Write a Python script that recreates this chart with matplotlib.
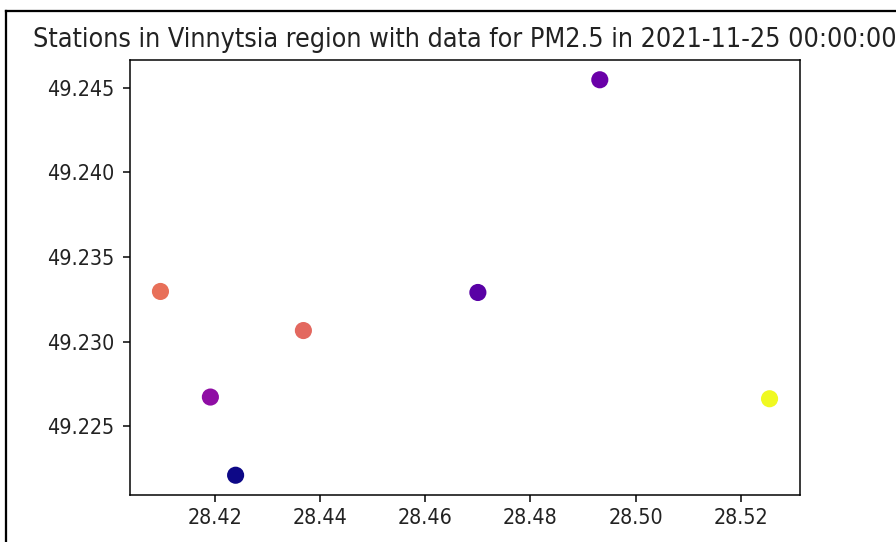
import matplotlib
matplotlib.use("Agg")
import matplotlib.pyplot as plt
from matplotlib.lines import Line2D
from matplotlib import font_manager

lons = [28.4096, 28.4191, 28.4239, 28.4368, 28.4700, 28.4932, 28.5255]
lats = [49.23296, 49.22672, 49.22210, 49.23065, 49.23290, 49.24547, 49.22662]
pm25 = [14.6, 9.5, 5.0, 14.15, 7.4, 8.0, 20.0]
title = "Stations in Vinnytsia region with data for PM2.5 in 2021-11-25 00:00:00"
xticks = [28.42, 28.44, 28.46, 28.48, 28.50, 28.52]
yticks = [49.225, 49.230, 49.235, 49.240, 49.245]
xlabels = ["28.42", "28.44", "28.46", "28.48", "28.50", "28.52"]
ylabels = ["49.225", "49.230", "49.235", "49.240", "49.245"]

cond = [f.name for f in font_manager.fontManager.ttflist if "Condensed" in f.fname and "DejaVuSans" in f.fname.replace(" ", "")]
print("condensed:", [f.fname for f in font_manager.fontManager.ttflist if "ondensed" in f.fname][:10])

DPI = 136
fig = plt.figure(figsize=(896 / DPI, 542 / DPI), dpi=DPI)
ax = fig.add_axes([130 / 896, 47 / 542, 670 / 896, 435 / 542])
ax.scatter(lons, lats, c=pm25, cmap="plasma", s=65)
ax.set_title(title, fontsize=14.2, fontstretch="condensed", color="#222222", pad=7)
ax.set_xticks(xticks)
ax.set_yticks(yticks)
ax.set_xticklabels(xlabels, fontsize=11.3, fontstretch="condensed", color="#222222")
ax.set_yticklabels(ylabels, fontsize=11.3, fontstretch="condensed", color="#222222")
ax.tick_params(axis="y", pad=5)

# screenshot border
fig.add_artist(Line2D([5.5 / 896, 5.5 / 896], [0, 1 - 11 / 542], transform=fig.transFigure, color="black", lw=1.2))
fig.add_artist(Line2D([5.5 / 896, 1], [1 - 11 / 542, 1 - 11 / 542], transform=fig.transFigure, color="black", lw=1.2))

fig.savefig("out.png", dpi=DPI)
